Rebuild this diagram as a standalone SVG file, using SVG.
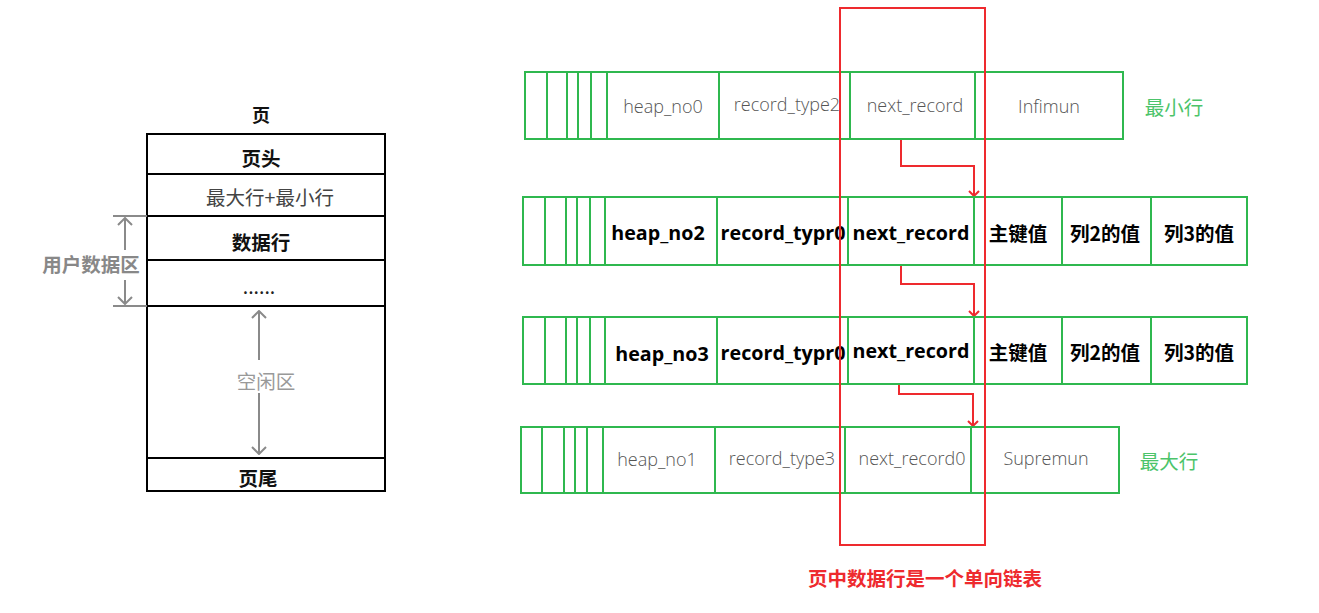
<svg xmlns="http://www.w3.org/2000/svg" width="1319" height="613" viewBox="0 0 1319 613">
<defs>
<style>
.bk{fill:none;stroke:#000;stroke-width:2}
.g{fill:none;stroke:#2fb84f;stroke-width:2}
.red{fill:none;stroke:#ee2a2e;stroke-width:2}
.gy{fill:none;stroke:#8a8a8a;stroke-width:2}
text{font-family:"Noto Sans","Open Sans","Noto Sans CJK SC",sans-serif;text-anchor:middle;dominant-baseline:central}
.cb{font-family:"Noto Sans CJK SC",sans-serif;font-weight:bold;font-size:19.5px;fill:#111}
.cn{font-family:"Noto Sans CJK SC",sans-serif;font-size:19.5px;fill:#444}
.lt{font-family:"Open Sans","Noto Sans",sans-serif;font-weight:300;font-size:18px;fill:#555}
.bd{font-family:"Open Sans","Noto Sans","Noto Sans CJK SC",sans-serif;font-weight:bold;font-size:19.7px;fill:#000}
.bc{font-family:"Noto Sans CJK SC",sans-serif;font-weight:bold;font-size:19.5px;fill:#000}
.gl{font-family:"Noto Sans CJK SC",sans-serif;font-size:19.5px;fill:#4cc46a}
</style>
<marker id="ra" viewBox="0 0 10 12" refX="9" refY="6" markerWidth="10" markerHeight="12" markerUnits="userSpaceOnUse" orient="auto">
<path d="M4,1 L9,6 L4,11" fill="none" stroke="#ee2a2e" stroke-width="2"/>
</marker>
<marker id="ga" viewBox="0 0 14 16" refX="13" refY="8" markerWidth="14" markerHeight="16" markerUnits="userSpaceOnUse" orient="auto">
<path d="M6,1 L13,8 L6,15" fill="none" stroke="#8a8a8a" stroke-width="2"/>
</marker>
</defs>
<rect width="1319" height="613" fill="#fff"/>

<g id="page">
<text x="261" y="114" class="cb" style="font-size:18px">页</text>
<rect x="147" y="134" width="238" height="357" class="bk"/>
<line x1="147" y1="174" x2="385" y2="174" class="bk"/>
<line x1="147" y1="216" x2="385" y2="216" class="bk"/>
<line x1="147" y1="260" x2="385" y2="260" class="bk"/>
<line x1="147" y1="306" x2="385" y2="306" class="bk"/>
<line x1="147" y1="458" x2="385" y2="458" class="bk"/>
<text x="261" y="157" class="cb">页头</text>
<text x="270" y="196" class="cn">最大行+最小行</text>
<text x="261" y="241" class="cb">数据行</text>
<text x="259" y="285" class="cn" style="fill:#222">......</text>
<text x="266" y="380" class="cn" style="fill:#999">空闲区</text>
<text x="258" y="477" class="cb">页尾</text>
</g>

<g id="user-area">
<line x1="113" y1="216" x2="147" y2="216" class="gy"/>
<line x1="113" y1="306" x2="147" y2="306" class="gy"/>
<text x="91" y="263" class="cb" style="fill:#888">用户数据区</text>
</g>

<g id="connectors">
<line x1="125" y1="250" x2="125" y2="218" class="gy" marker-end="url(#ga)"/>
<line x1="125" y1="280" x2="125" y2="304" class="gy" marker-end="url(#ga)"/>
<line x1="259" y1="360" x2="259" y2="311" class="gy" marker-end="url(#ga)"/>
<line x1="259" y1="393" x2="259" y2="454" class="gy" marker-end="url(#ga)"/>
<polyline points="901,139 901,166 974,166 974,196" class="red" marker-end="url(#ra)"/>
<polyline points="901,265 901,284 974,284 974,316" class="red" marker-end="url(#ra)"/>
<polyline points="899,384 899,394 973,394 973,426" class="red" marker-end="url(#ra)"/>
</g>

<g id="row-infimum">
<rect x="525" y="72" width="598" height="67" class="g"/>
<path d="M547,72V139M567,72V139M578,72V139M591,72V139M607,72V139M719,72V139M850,72V139M975,72V139" class="g"/>
<text x="663" y="106" class="lt">heap_no0</text>
<text x="787" y="104" class="lt">record_type2</text>
<text x="915" y="105" class="lt">next_record</text>
<text x="1049" y="106" class="lt">Infimun</text>
<text x="1174" y="106" class="gl">最小行</text>
</g>

<g id="row-2">
<rect x="523" y="197" width="724" height="68" class="g"/>
<path d="M545,197V265M566,197V265M577,197V265M590,197V265M605,197V265M717,197V265M848,197V265M974,197V265M1062,197V265M1151,197V265" class="g"/>
<text x="658" y="232" class="bd">heap_no2</text>
<text x="783" y="232" class="bd">record_typr0</text>
<text x="911" y="232" class="bd">next_record</text>
<text x="1018" y="232" class="bc">主键值</text>
<text x="1105" y="232" class="bc">列2的值</text>
<text x="1199" y="232" class="bc">列3的值</text>
</g>

<g id="row-3">
<rect x="523" y="317" width="724" height="67" class="g"/>
<path d="M545,317V384M566,317V384M577,317V384M590,317V384M605,317V384M717,317V384M848,317V384M974,317V384M1062,317V384M1151,317V384" class="g"/>
<text x="662" y="353" class="bd">heap_no3</text>
<text x="783" y="352" class="bd">record_typr0</text>
<text x="911" y="350" class="bd">next_record</text>
<text x="1018" y="351" class="bc">主键值</text>
<text x="1105" y="351" class="bc">列2的值</text>
<text x="1199" y="351" class="bc">列3的值</text>
</g>

<g id="row-supremum">
<rect x="521" y="427" width="598" height="66" class="g"/>
<path d="M542,427V493M564,427V493M575,427V493M587,427V493M603,427V493M715,427V493M845,427V493M971,427V493" class="g"/>
<text x="657" y="459" class="lt">heap_no1</text>
<text x="782" y="458" class="lt">record_type3</text>
<text x="912" y="458" class="lt">next_record0</text>
<text x="1046" y="458" class="lt">Supremun</text>
<text x="1169" y="460" class="gl">最大行</text>
</g>

<g id="highlight">
<rect x="840" y="8" width="145" height="537" class="red"/>
<text x="925" y="577" class="bc" style="fill:#ee2a2e;font-size:19.5px">页中数据行是一个单向链表</text>
</g>
</svg>
